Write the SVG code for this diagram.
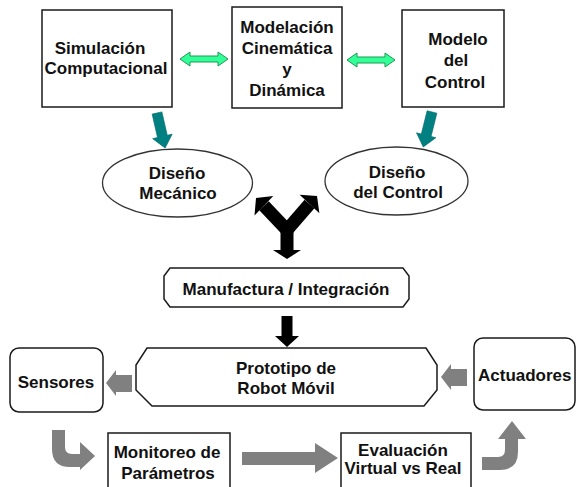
<svg xmlns="http://www.w3.org/2000/svg" width="576" height="487" viewBox="0 0 576 487">
<style>
.box{fill:#fff;stroke:#1a1a1a;stroke-width:1.5}
.ell{fill:#fff;stroke:#333;stroke-width:1.3}
.t{font-family:"Liberation Sans",Arial,sans-serif;font-weight:bold;font-size:17px;fill:#111;text-anchor:middle}
.tl{font-family:"Liberation Sans",Arial,sans-serif;font-weight:bold;font-size:17px;fill:#111}
.green{fill:#33ff99;stroke:#1a9950;stroke-width:1}
.teal{fill:#008080;stroke:#006a6a;stroke-width:0.6}
.blk{fill:#000}
.gray{fill:#808080}
</style>
<rect width="576" height="487" fill="#fff"/>
<defs>
<polygon id="tealArrow" points="-5,0 5,0 5,24 10,24 0,36 -10,24 -5,24"/>
</defs>
<g id="connectors">
<polygon class="green" points="180,59 190,52 190,56 218,56 218,52 228,59 218,66 218,62 190,62 190,66"/>
<polygon class="green" points="347,60 357,53 357,57 385,57 385,53 395,60 385,67 385,63 357,63 357,67"/>
<use href="#tealArrow" class="teal" transform="translate(157,113) rotate(-13)"/>
<use href="#tealArrow" class="teal" transform="translate(432,112) rotate(14)"/>
<g id="yArrow">
<rect class="blk" x="280.5" y="224" width="13" height="26"/>
<polygon class="blk" points="273,250 301,250 287,259"/>
<line x1="287" y1="230" x2="264" y2="205.7" stroke="#000" stroke-width="13"/>
<line x1="287" y1="230" x2="309.5" y2="204" stroke="#000" stroke-width="13"/>
<polygon class="blk" points="273.3,196 254.5,215.4 256,198"/>
<polygon class="blk" points="319.4,213.2 299.6,194.8 317,196"/>
</g>
<polygon class="blk" points="281.5,316 292.5,316 292.5,336 299,336 287,347 275,336 281.5,336"/>
<polygon class="gray" points="106,383 116,370 116,375 132,375 132,392 116,392 116,396"/>
<polygon class="gray" points="441,377 451,364 451,369 467,369 467,386 451,386 451,390"/>
<path class="gray" d="M52,430 L65,430 L65,447 Q65,454 72,454 L80,454 L80,442 L95,456 L80,470 L80,467 L70,467 Q52,467 52,449 Z"/>
<polygon class="gray" points="242,452 315,452 315,443 338,458 315,473 315,465 242,465"/>
<path class="gray" d="M482,457 L498,457 Q505,457 505,450 L505,439 L498,439 L512,421 L526,439 L518,439 L518,452 Q518,470 500,470 L482,470 Z"/>
</g>
<g id="simulacion">
<rect class="box" x="42" y="10" width="130" height="97"/>
<text class="t" x="100" y="54">Simulación</text>
<text class="t" x="106" y="74">Computacional</text>
</g>
<g id="modelacion">
<rect class="box" x="232" y="7" width="110" height="101"/>
<text class="t" x="287" y="33">Modelación</text>
<text class="t" x="287" y="54">Cinemática</text>
<text class="t" x="287" y="75">y</text>
<text class="t" x="287" y="96">Dinámica</text>
</g>
<g id="modelo">
<rect class="box" x="402" y="10" width="102" height="97"/>
<text class="t" x="458" y="45">Modelo</text>
<text class="t" x="456" y="66">del</text>
<text class="t" x="455" y="88">Control</text>
</g>
<g id="disenoMecanico">
<ellipse class="ell" cx="177.5" cy="183" rx="75" ry="34"/>
<text class="t" x="177" y="179">Diseño</text>
<text class="t" x="178" y="199">Mecánico</text>
</g>
<g id="disenoControl">
<ellipse class="ell" cx="396.5" cy="181" rx="71.5" ry="34"/>
<text class="t" x="397" y="178">Diseño</text>
<text class="t" x="398" y="198">del Control</text>
</g>
<g id="manufactura">
<polygon class="box" points="170,268 403,268 409,276 409,299 403,307 170,307 164,299 164,276"/>
<text class="t" x="286" y="295">Manufactura / Integración</text>
</g>
<g id="prototipo">
<polygon class="box" points="147,348 426,348 437,365 437,390 424,406 152,406 136,390 136,365"/>
<text class="t" x="286" y="374">Prototipo de</text>
<text class="t" x="286" y="394">Robot Móvil</text>
</g>
<g id="sensores">
<rect class="box" x="10" y="348" width="93" height="64" rx="9"/>
<text class="t" x="56" y="388">Sensores</text>
</g>
<g id="actuadores">
<rect class="box" x="474" y="338" width="101" height="72" rx="9"/>
<text class="tl" x="478" y="381">Actuadores</text>
</g>
<g id="monitoreo">
<rect class="box" x="108" y="433" width="122" height="70"/>
<text class="t" x="167" y="458">Monitoreo de</text>
<text class="t" x="168" y="479">Parámetros</text>
</g>
<g id="evaluacion">
<rect class="box" x="341" y="433" width="130" height="70"/>
<text class="t" x="403" y="456">Evaluación</text>
<text class="t" x="403" y="474">Virtual vs Real</text>
</g>
</svg>
